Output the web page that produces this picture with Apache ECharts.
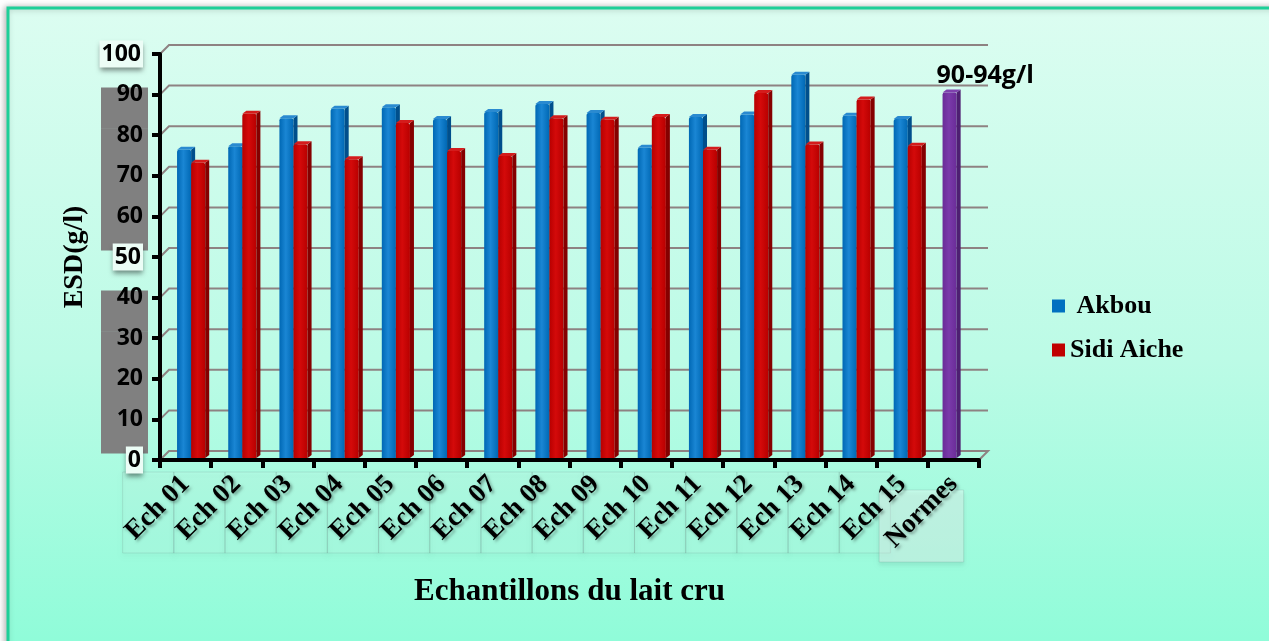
<!DOCTYPE html>
<html>
<head>
<meta charset="utf-8">
<script src="https://cdn.jsdelivr.net/npm/echarts@6/dist/echarts.min.js"></script>
<style>
  html, body { margin: 0; padding: 0; background: #ffffff; }
  #chart { width: 1269px; height: 641px; }
</style>
</head>
<body>
<div id="chart"></div>
<script>
// ESD (g/l) of raw milk samples, two collection sites plus the standard
const categories = ['Ech 01', 'Ech 02', 'Ech 03', 'Ech 04', 'Ech 05', 'Ech 06', 'Ech 07', 'Ech 08',
                    'Ech 09', 'Ech 10', 'Ech 11', 'Ech 12', 'Ech 13', 'Ech 14', 'Ech 15', 'Normes'];
const akbou     = [75.9, 76.8, 83.7, 86.0, 86.4, 83.5, 85.2, 87.2, 85.0, 76.4, 84.0, 84.6, 94.4, 84.3, 83.5];
const sidiAiche = [72.7, 84.8, 77.3, 73.6, 82.5, 75.6, 74.4, 83.7, 83.3, 84.0, 75.9, 89.9, 77.2, 88.3, 76.9];
const normes = [90];
const normesLabel = ['90-94g/l'];
const yTicks = [0, 10, 20, 30, 40, 50, 60, 70, 80, 90, 100];
const darkLabelTicks = [10, 20, 30, 40, 60, 70, 80, 90];

const normesIndex = categories.indexOf('Normes');

// 3D look: bars sit half way into the floor, with a side and a top face
const SHIFT_X = 4, SHIFT_Y = 2, DEPTH_X = 4, DEPTH_Y = 3, WALL = 9;
const sansBold = '"Open Sans", "Noto Sans", sans-serif';
const serifBold = '"Liberation Serif", "Times New Roman", serif';

function bar3d(offset, front, side, top, labels) {
  return function (params, api) {
    const idx = api.value(0);
    const val = api.value(1);
    const band = api.size([1, 0])[0];
    const base = api.coord([idx, 0]);
    const tip = api.coord([idx, val]);
    const w = band * 0.275;
    const x0 = base[0] + band * offset + SHIFT_X;
    const x1 = x0 + w;
    const yb = base[1] - SHIFT_Y;
    const yt = tip[1] - SHIFT_Y;
    const children = [
      {
        type: 'rect',
        shape: { x: x0, y: yt, width: w, height: yb - yt, r: [2, 2, 0, 0] },
        style: {
          fill: new echarts.graphic.LinearGradient(0, 0, 1, 0, [
            { offset: 0, color: front[0] },
            { offset: 0.45, color: front[1] },
            { offset: 1, color: front[0] }
          ])
        }
      },
      {
        type: 'polygon',
        shape: { points: [[x1, yt], [x1 + DEPTH_X, yt - DEPTH_Y], [x1 + DEPTH_X, yb - DEPTH_Y], [x1, yb]] },
        style: { fill: side }
      },
      {
        type: 'polygon',
        shape: { points: [[x0, yt], [x0 + DEPTH_X, yt - DEPTH_Y], [x1 + DEPTH_X, yt - DEPTH_Y], [x1, yt]] },
        style: { fill: top }
      }
    ];
    if (labels) {
      children.push({
        type: 'text',
        style: {
          x: x0 - 6, y: yt - 17,
          text: labels[params.dataIndex],
          fill: '#000000',
          font: 'bold 25px ' + sansBold,
          verticalAlign: 'middle', align: 'left'
        }
      });
    }
    return { type: 'group', children: children };
  };
}

const chart = echarts.init(document.getElementById('chart'));

chart.setOption({
  animation: false,
  backgroundColor: '#ffffff',
  graphic: [{
    type: 'rect',
    z: -10,
    silent: true,
    shape: { x: 8, y: 8, width: 1300, height: 700 },
    style: {
      fill: new echarts.graphic.LinearGradient(0, 0, 0, 1, [
        { offset: 0, color: '#dcfdf1' },
        { offset: 0.5, color: '#bcfbe6' },
        { offset: 0.9, color: '#90fcd9' },
        { offset: 1, color: '#8cfcd8' }
      ]),
      stroke: '#1dcf98',
      lineWidth: 3,
      shadowBlur: 6,
      shadowColor: 'rgba(0,0,0,0.25)',
      shadowOffsetX: -2
    }
  }],
  grid: { left: 160, top: 54, right: 290, bottom: 181, containLabel: false },
  legend: {
    data: ['Akbou', 'Sidi Aiche'],
    orient: 'vertical',
    left: 1047,
    top: 288,
    itemGap: 18,
    itemWidth: 13,
    itemHeight: 13,
    icon: 'rect',
    formatter: function (name) { return name === 'Akbou' ? ' ' + name : name; },
    textStyle: { fontFamily: serifBold, fontWeight: 'bold', fontSize: 26, color: '#000000' }
  },
  xAxis: {
    type: 'category',
    data: categories,
    z: 5,
    name: 'Echantillons du lait cru',
    nameLocation: 'middle',
    nameGap: 116,
    nameTextStyle: { fontFamily: serifBold, fontWeight: 'bold', fontSize: 31, color: '#000000' },
    axisLine: { lineStyle: { color: '#000000', width: 4 } },
    axisTick: { show: true, length: 8, lineStyle: { color: '#000000', width: 4 } },
    axisLabel: {
      interval: 0,
      rotate: 45,
      margin: 20,
      fontFamily: serifBold,
      fontWeight: 'bold',
      fontSize: 27,
      color: '#000000',
      textShadowColor: 'rgba(0,0,0,0.35)',
      textShadowBlur: 3,
      textShadowOffsetX: 2,
      textShadowOffsetY: 2
    },
    splitLine: { show: false }
  },
  yAxis: {
    type: 'value',
    min: 0,
    max: 100,
    interval: 10,
    z: 5,
    name: 'ESD(g/l)',
    nameLocation: 'middle',
    nameGap: 70,
    nameRotate: 90,
    nameTextStyle: { fontFamily: serifBold, fontWeight: 'bold', fontSize: 28, color: '#000000' },
    axisLine: { show: true, lineStyle: { color: '#000000', width: 4 } },
    axisTick: { show: true, length: 8, lineStyle: { color: '#000000', width: 4 } },
    splitLine: { show: false },
    axisLabel: {
      margin: 17,
      formatter: function (v) {
        return darkLabelTicks.indexOf(v) >= 0 ? '{d|' + v + '}' : '{w|' + v + '}';
      },
      rich: {
        d: { fontFamily: sansBold, fontWeight: 'bold', fontSize: 23, color: '#000000' },
        w: {
          fontFamily: sansBold, fontWeight: 'bold', fontSize: 23, color: '#000000',
          backgroundColor: '#ecfdf6',
          padding: [2, 2, 2, 2],
          shadowColor: 'rgba(0,0,0,0.45)',
          shadowBlur: 5,
          shadowOffsetY: 3
        }
      }
    }
  },
  series: [
    {
      // back wall grid lines and floor
      type: 'custom',
      name: 'wall',
      z: 1,
      silent: true,
      data: yTicks.map(function (v) { return [0, v]; }),
      renderItem: function (params, api) {
        const cs = params.coordSys;
        const y = api.coord([0, api.value(1)])[1];
        const xl = cs.x, xr = cs.x + cs.width;
        const pts = api.value(1) === 0
          ? [[xl, y], [xl + WALL, y - WALL], [xr + WALL, y - WALL], [xr, y]]
          : [[xl, y], [xl + WALL, y - WALL], [xr + WALL, y - WALL]];
        return {
          type: 'polyline',
          shape: { points: pts },
          style: { stroke: '#8e8282', lineWidth: 2, fill: null }
        };
      }
    },
    {
      // grey panels behind the value labels
      type: 'custom',
      name: 'panels',
      z: 0,
      silent: true,
      data: darkLabelTicks.map(function (v) { return [0, v]; }),
      renderItem: function (params, api) {
        const cs = params.coordSys;
        const y = api.coord([0, api.value(1)])[1];
        return {
          type: 'rect',
          shape: { x: cs.x - 59, y: y - 7, width: 47, height: api.size([0, 10])[1] + 0.5 },
          style: { fill: '#808080' }
        };
      }
    },
    {
      // faint cells behind the category labels
      type: 'custom',
      name: 'cells',
      z: 0,
      silent: true,
      data: categories.map(function (c, i) { return [i, 0]; }),
      renderItem: function (params, api) {
        const idx = api.value(0);
        const band = api.size([1, 0])[0];
        const p = api.coord([idx, 0]);
        const last = idx === normesIndex;
        return {
          type: 'rect',
          shape: last
            ? { x: p[0] - band * 1.45, y: p[1] + 30, width: band * 1.65, height: 72 }
            : { x: p[0] - band * 1.23, y: p[1] + 12, width: band, height: 81 },
          style: {
            fill: last ? 'rgba(255,255,255,0.35)' : 'rgba(255,255,255,0.07)',
            stroke: 'rgba(120,160,150,0.25)',
            lineWidth: 1,
            shadowColor: 'rgba(0,0,0,0.2)',
            shadowBlur: 4,
            shadowOffsetY: 3
          }
        };
      }
    },
    {
      type: 'custom',
      name: 'Akbou',
      z: 3,
      itemStyle: { color: '#0070c0' },
      data: akbou.map(function (v, i) { return [i, v]; }),
      renderItem: bar3d(-0.245, ['#0068b4', '#1a86d4'], '#004f8c', '#2a8ad0')
    },
    {
      type: 'custom',
      name: 'Sidi Aiche',
      z: 4,
      itemStyle: { color: '#c00000' },
      data: sidiAiche.map(function (v, i) { return [i, v]; }),
      renderItem: bar3d(0.03, ['#b80000', '#d40a0a'], '#850000', '#d41c1c')
    },
    {
      type: 'custom',
      name: 'Normes',
      z: 4,
      itemStyle: { color: '#7030a0' },
      data: normes.map(function (v) { return [normesIndex, v]; }),
      renderItem: bar3d(-0.29, ['#6a2c98', '#7a3aaa'], '#4e1f72', '#7e40ad', normesLabel)
    }
  ]
});
</script>
</body>
</html>
